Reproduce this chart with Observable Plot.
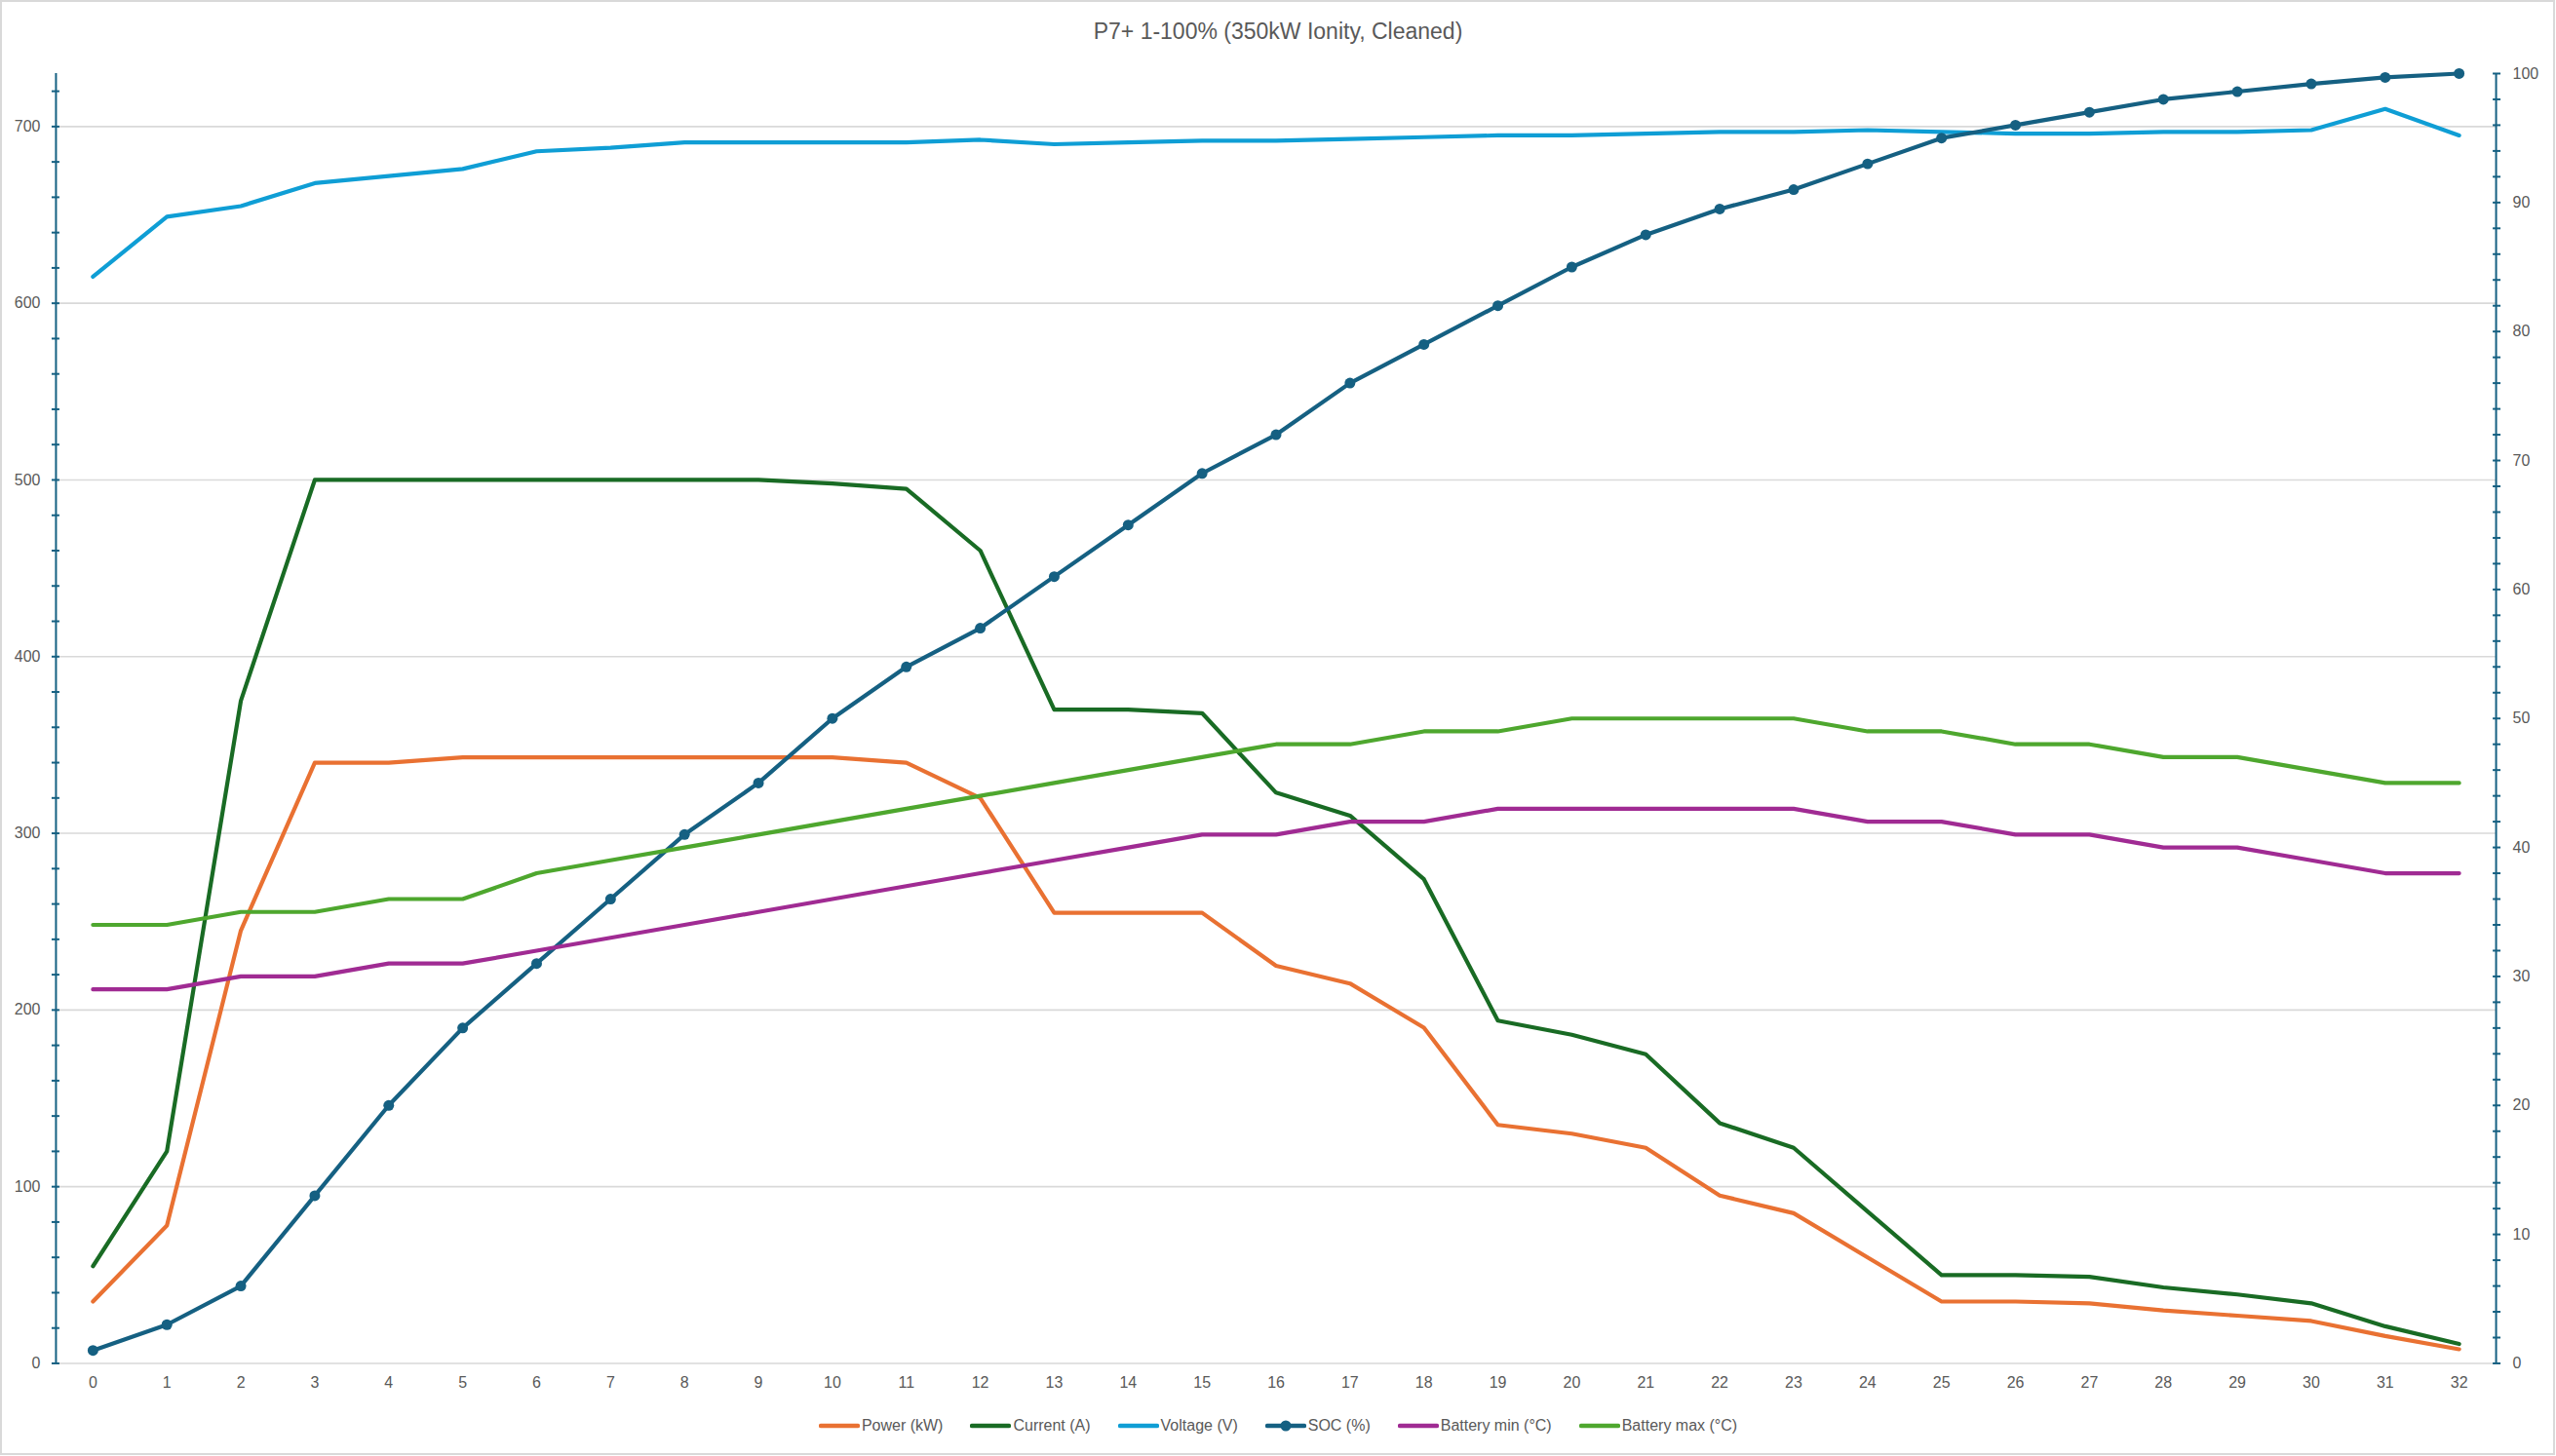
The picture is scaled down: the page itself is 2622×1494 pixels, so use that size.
<!DOCTYPE html>
<html>
<head>
<meta charset="utf-8">
<script src="https://cdn.jsdelivr.net/npm/d3@7"></script>
<script src="https://cdn.jsdelivr.net/npm/@observablehq/plot@0.6"></script>
<style>
html, body { margin: 0; padding: 0; background: #fff; }
#chart { position: relative; width: 2621px; height: 1493px; box-sizing: border-box; border: 2px solid #d9d9d9;
  font-family: "Liberation Sans", Arial, sans-serif; color: #595959; overflow: hidden; background: #fff; }
#title { position: absolute; left: -2px; width: 2622px; top: 15px; text-align: center; font-size: 23px; line-height: 30px; }
#plot { position: absolute; left: -2px; top: 58px; }
#legend { position: absolute; left: -2px; width: 2622px; top: 1447px; height: 28px; display: flex; justify-content: center;
  align-items: center; gap: 28px; font-size: 16px; }
.item { display: flex; align-items: center; }
.item span { margin-left: 2px; white-space: pre; }
</style>
</head>
<body>
<div id="chart">
  <div id="title"></div>
  <div id="plot"></div>
  <div id="legend"></div>
</div>
<script>
// ---- data ----
const title = "P7+ 1-100% (350kW Ionity, Cleaned)";
const steps = d3.range(0, 33);
const power   = [35,78,245,340,340,343,343,343,343,343,343,340,320,255,255,255,225,215,190,135,130,122,95,85,60,35,35,34,30,27,24,15.5,8];
const current = [55,120,375,500,500,500,500,500,500,500,498,495,460,370,370,368,323,310,274,194,186,175,136,122,86,50,50,49,43,39,34,21,11];
const voltage = [615,649,655,668,672,676,686,688,691,691,691,691,692.5,690,691,692,692,693,694,695,695,696,697,697,698,697,696,696,697,697,698,710,695];
const soc     = [1,3,6,13,20,26,31,36,41,45,50,54,57,61,65,69,72,76,79,82,85,87.5,89.5,91,93,95,96,97,98,98.6,99.2,99.7,100];
const batMin  = [29,29,30,30,31,31,32,33,34,35,36,37,38,39,40,41,41,42,42,43,43,43,43,43,42,42,41,41,40,40,39,38,38];
const batMax  = [34,34,35,35,36,36,38,39,40,41,42,43,44,45,46,47,48,48,49,49,50,50,50,50,49,49,48,48,47,47,46,45,45];
const seriesNames = ["Power (kW)", "Current (A)", "Voltage (V)", "SOC (%)", "Battery min (°C)", "Battery max (°C)"];
const seriesColors = ["#E97132", "#196B24", "#0F9ED5", "#156082", "#A02B93", "#4EA72E"];
const leftMajor = d3.range(0, 701, 100);
const leftMinor = d3.range(0, 721, 20);
const rightMajor = d3.range(0, 101, 10);
const rightMinor = d3.range(0, 101, 2);
const leftMax = 730, rightMax = 100;

// ---- build ----
const k = leftMax / rightMax; // secondary axis mapped onto primary scale
const rows = steps.map((s, i) => ({step: s, power: power[i], current: current[i], voltage: voltage[i],
  soc: soc[i], batMin: batMin[i], batMax: batMax[i]}));
const axisColor = "#156082";
const font = '"Liberation Sans", Arial, sans-serif';
const lw = 4.2;

document.getElementById("title").textContent = title;

const chart = Plot.plot({
  width: 2622, height: 1390,
  marginTop: 15, marginRight: 59, marginBottom: 50, marginLeft: 57,
  style: {fontFamily: font, fontSize: "16px", color: "#595959", background: "transparent"},
  x: {domain: [-0.5, 32.5], axis: null, label: null},
  y: {domain: [0, leftMax], axis: null, label: null},
  marks: [
    Plot.ruleY(leftMajor, {stroke: "#d9d9d9", strokeWidth: 1.6}),
    Plot.ruleX([-0.5, 32.5], {stroke: axisColor, strokeWidth: 2}),
    Plot.axisY(leftMinor, {anchor: "left", tickSize: 8, dx: 4, tickFormat: () => "", label: null, stroke: axisColor, strokeWidth: 2}),
    Plot.axisY(rightMinor.map(v => v * k), {anchor: "right", tickSize: 8, dx: -4, tickFormat: () => "", label: null, stroke: axisColor, strokeWidth: 2}),
    Plot.axisY(leftMajor, {anchor: "left", tickSize: 0, tickPadding: 16, fontSize: 16, fill: "#595959", label: null}),
    Plot.axisY(rightMajor.map(v => v * k), {anchor: "right", tickSize: 0, tickPadding: 17, fontSize: 16, fill: "#595959", label: null,
      tickFormat: d => String(Math.round(d / k))}),
    Plot.axisX(steps, {anchor: "bottom", tickSize: 0, tickPadding: 14, fontSize: 16, fill: "#595959", label: null, tickFormat: d => String(d)}),
    Plot.lineY(rows, {x: "step", y: "power", stroke: seriesColors[0], strokeWidth: lw, strokeLinejoin: "round", strokeLinecap: "round"}),
    Plot.lineY(rows, {x: "step", y: "current", stroke: seriesColors[1], strokeWidth: lw, strokeLinejoin: "round", strokeLinecap: "round"}),
    Plot.lineY(rows, {x: "step", y: "voltage", stroke: seriesColors[2], strokeWidth: lw, strokeLinejoin: "round", strokeLinecap: "round"}),
    Plot.lineY(rows, {x: "step", y: d => d.soc * k, stroke: seriesColors[3], strokeWidth: lw, strokeLinejoin: "round", strokeLinecap: "round"}),
    Plot.dot(rows, {x: "step", y: d => d.soc * k, r: 5.5, fill: seriesColors[3], stroke: null}),
    Plot.lineY(rows, {x: "step", y: d => d.batMin * k, stroke: seriesColors[4], strokeWidth: lw, strokeLinejoin: "round", strokeLinecap: "round"}),
    Plot.lineY(rows, {x: "step", y: d => d.batMax * k, stroke: seriesColors[5], strokeWidth: lw, strokeLinejoin: "round", strokeLinecap: "round"})
  ]
});
document.getElementById("plot").appendChild(chart);

const legend = document.getElementById("legend");
seriesNames.forEach((name, i) => {
  const item = document.createElement("div");
  item.className = "item";
  const marker = i === 3 ? `<circle cx="21" cy="7" r="5.5" fill="${seriesColors[i]}"/>` : "";
  item.innerHTML = `<svg width="42" height="14"><line x1="2" x2="40" y1="7" y2="7" stroke="${seriesColors[i]}" stroke-width="4.5" stroke-linecap="round"/>${marker}</svg><span></span>`;
  item.querySelector("span").textContent = name;
  legend.appendChild(item);
});
</script>
</body>
</html>
